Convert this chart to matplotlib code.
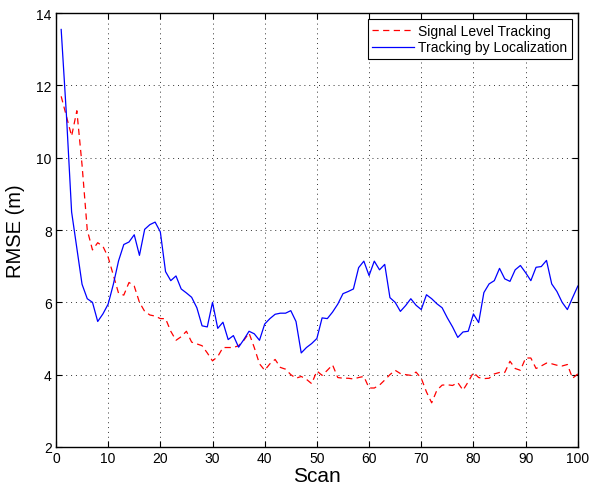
import matplotlib
matplotlib.use("Agg")
import matplotlib.pyplot as plt
import numpy as np

plt.rcParams['font.family'] = ['Liberation Sans', 'DejaVu Sans']

scan = list(range(1, 101))

signal_level = [11.7, 11.15, 10.6, 11.3, 9.8, 8.0, 7.45, 7.65, 7.55, 7.25,
                6.75, 6.25, 6.2, 6.55, 6.45, 6.0, 5.75, 5.65, 5.62, 5.55,
                5.55, 5.2, 4.95, 5.05, 5.2, 4.9, 4.85, 4.8, 4.6, 4.38,
                4.5, 4.75, 4.75, 4.75, 4.8, 4.95, 5.15, 4.75, 4.3, 4.12,
                4.3, 4.42, 4.2, 4.15, 4.0, 3.9, 3.95, 3.87, 3.75, 4.1,
                3.98, 4.12, 4.27, 3.92, 3.9, 3.9, 3.88, 3.92, 3.95, 3.63,
                3.63, 3.71, 3.85, 4.0, 4.12, 4.03, 4.0, 3.98, 4.07, 3.9,
                3.52, 3.22, 3.57, 3.71, 3.72, 3.7, 3.78, 3.57, 3.8, 4.06,
                3.92, 3.89, 3.9, 4.02, 4.06, 4.06, 4.37, 4.17, 4.12, 4.46,
                4.46, 4.17, 4.24, 4.32, 4.3, 4.26, 4.24, 4.28, 3.9, 4.02]

localization = [13.55, 11.2, 8.5, 7.5, 6.5, 6.1, 6.0, 5.47, 5.68, 5.95,
                6.5, 7.15, 7.6, 7.67, 7.87, 7.3, 8.02, 8.15, 8.22, 7.95,
                6.85, 6.6, 6.73, 6.37, 6.26, 6.14, 5.85, 5.35, 5.32, 6.0,
                5.28, 5.45, 4.97, 5.08, 4.76, 4.97, 5.2, 5.13, 4.95, 5.4,
                5.55, 5.67, 5.7, 5.7, 5.77, 5.47, 4.6, 4.75, 4.86, 5.0,
                5.57, 5.55, 5.73, 5.95, 6.24, 6.3, 6.37, 6.96, 7.14, 6.74,
                7.14, 6.9, 7.05, 6.13, 6.0, 5.75, 5.91, 6.1, 5.92, 5.8,
                6.21, 6.1, 5.96, 5.85, 5.57, 5.32, 5.03, 5.18, 5.2, 5.68,
                5.44, 6.27, 6.51, 6.6, 6.94, 6.65, 6.58, 6.9, 7.02, 6.82,
                6.6, 6.97, 6.99, 7.16, 6.51, 6.3, 6.0, 5.8, 6.13, 6.45]

series_names = ['Signal Level Tracking', 'Tracking by Localization']
x_ticks = list(range(0, 101, 10))
y_ticks = list(range(2, 15, 2))

fig = plt.figure(figsize=(5.89, 4.89), dpi=100)
ax = fig.add_axes([0.095, 0.084, 0.886, 0.887])

ax.plot(scan, signal_level, color='#ff0000', linestyle=(0, (5, 3.5)), linewidth=0.9,
        label=series_names[0])
ax.plot(scan, localization, color='#0000ff', linestyle='-', linewidth=0.9,
        label=series_names[1])

ax.set_xlim(0, 100)
ax.set_ylim(2, 14)
ax.set_xticks(x_ticks)
ax.set_yticks(y_ticks)
ax.tick_params(direction='in', top=True, right=True, length=4, width=0.8,
               labelsize=10, pad=3)
ax.grid(True, color='#333333', linestyle=(0, (1, 4)), linewidth=0.7)
for s in ax.spines.values():
    s.set_linewidth(1.0)
    s.set_color('black')

ax.set_xlabel('Scan', fontsize=15, labelpad=1)
ax.set_ylabel('RMSE (m)', fontsize=14.5, labelpad=8)

leg = ax.legend(loc='upper right', fontsize=10, frameon=True, fancybox=False,
                edgecolor='black', framealpha=1, borderpad=0.3, handlelength=3.0,
                handletextpad=0.3, labelspacing=0.2, borderaxespad=0.45)
leg.get_frame().set_linewidth(0.8)

fig.savefig('out.png', dpi=100)
